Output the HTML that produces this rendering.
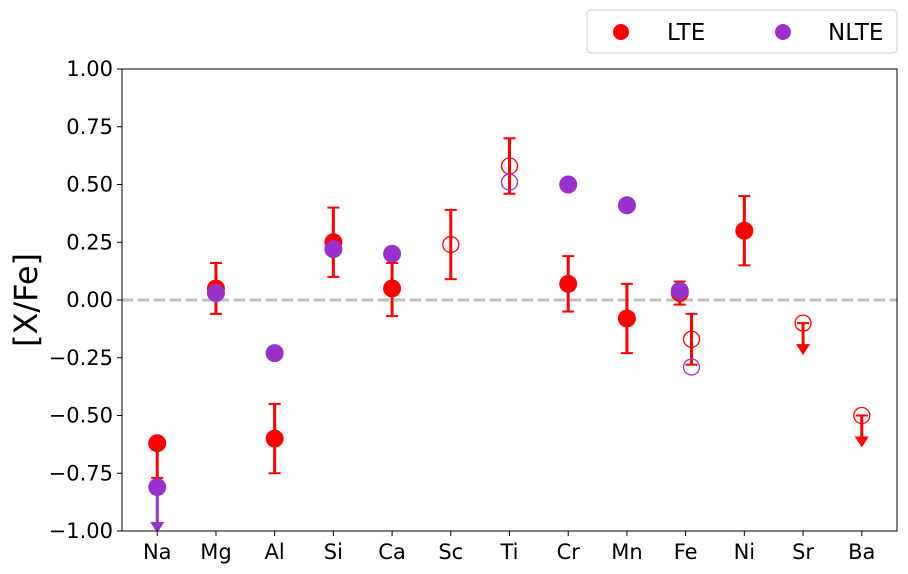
<!DOCTYPE html>
<html><head><meta charset="utf-8"><style>
body{margin:0;background:#fff;}
svg{display:block;font-family:"DejaVu Sans","Liberation Sans",sans-serif;}
</style></head><body>
<svg id="c" width="908" height="574"></svg>
<script>
const categories=["Na","Mg","Al","Si","Ca","Sc","Ti","Cr","Mn","Fe","Ni","Sr","Ba"];
const yTicks=[1.00,0.75,0.50,0.25,0.00,-0.25,-0.50,-0.75,-1.00];
// LTE filled: [catIndex, offset, value, errLow, errHigh]
const lteFilled=[[0,0,-0.62,0.15,0],[1,0,0.05,0.11,0.11],[2,0,-0.60,0.15,0.15],[3,0,0.25,0.15,0.15],[4,0,0.05,0.12,0.11],[7,0,0.07,0.12,0.12],[8,0,-0.08,0.15,0.15],[9,-0.1,0.03,0.05,0.05],[10,0,0.30,0.15,0.15]];
const lteOpen=[[5,0,0.24,0.15,0.15],[6,0,0.58,0.12,0.12],[9,0.1,-0.17,0.11,0.11]];
const lteLimits=[[11,0,-0.10,0.13],[12,0,-0.50,0.13]];
const nlteFilled=[[0,0,-0.81],[1,0,0.03],[2,0,-0.23],[3,0,0.22],[4,0,0.20],[7,0,0.50],[8,0,0.41],[9,-0.1,0.04]];
const nlteOpen=[[6,0,0.51],[9,0.1,-0.29]];
const nlteLimits=[[0,0,-0.81,0.19]];
const L=122,R=897,T=69,B=531;
const x=i=>L+(i+0.6)/13.2*(R-L);
const y=v=>T+(1-v)/2*(B-T);
const svg=document.getElementById('c');const NS="http://www.w3.org/2000/svg";
function mk(t,a,p){const e=document.createElementNS(NS,t);for(const k in a)e.setAttribute(k,a[k]);(p||svg).appendChild(e);return e;}
const RED="#ff0000",PUR="#9932cc";
let e=mk('line',{x1:L,x2:R,y1:y(0),y2:y(0),stroke:"#bfbfbf","stroke-width":3,"stroke-dasharray":"11,5"});

yTicks.forEach(v=>{mk('line',{x1:L-5,x2:L,y1:y(v),y2:y(v),stroke:"#000"});
 const t=mk('text',{x:L-9,y:y(v)+7,"text-anchor":"end","font-size":21});t.textContent=v.toFixed(2).replace('-','\u2212');
 });
categories.forEach((c,i)=>{mk('line',{x1:x(i),x2:x(i),y1:B,y2:B+5,stroke:"#000"});
 const t=mk('text',{x:x(i),y:B+28,"text-anchor":"middle","font-size":21});t.textContent=c;
 });
function err(cx,v,lo,hi,col){
 if(lo>0){mk('line',{x1:cx,x2:cx,y1:y(v),y2:y(v-lo),stroke:col,"stroke-width":3});mk('line',{x1:cx-6,x2:cx+6,y1:y(v-lo),y2:y(v-lo),stroke:col,"stroke-width":2});}
 if(hi>0){mk('line',{x1:cx,x2:cx,y1:y(v),y2:y(v+hi),stroke:col,"stroke-width":3});mk('line',{x1:cx-6,x2:cx+6,y1:y(v+hi),y2:y(v+hi),stroke:col,"stroke-width":2});}
}
function lim(cx,v,d,col){const y2=y(v-d);
 mk('line',{x1:cx,x2:cx,y1:y(v),y2:y2-6,stroke:col,"stroke-width":3});mk('line',{x1:cx-6,x2:cx+6,y1:y(v),y2:y(v),stroke:col,"stroke-width":2});
 mk('polygon',{points:`${cx-7},${y2-9} ${cx+7},${y2-9} ${cx},${y2+2}`,fill:col});}
lteFilled.forEach(d=>err(x(d[0]+d[1]),d[2],d[3],d[4],RED));
lteOpen.forEach(d=>err(x(d[0]+d[1]),d[2],d[3],d[4],RED));
lteLimits.forEach(d=>lim(x(d[0]+d[1]),d[2],d[3],RED));
nlteLimits.forEach(d=>lim(x(d[0]+d[1]),d[2],d[3],PUR));
lteFilled.forEach(d=>{const c=mk('circle',{cx:x(d[0]+d[1]),cy:y(d[2]),r:9,fill:RED});
 });
lteOpen.concat(lteLimits).forEach(d=>{const c=mk('circle',{cx:x(d[0]+d[1]),cy:y(d[2]),r:8,fill:"none",stroke:RED,"stroke-width":1.3});
 });
nlteFilled.forEach(d=>{const c=mk('circle',{cx:x(d[0]+d[1]),cy:y(d[2]),r:9,fill:PUR});
 });
nlteOpen.forEach(d=>{const c=mk('circle',{cx:x(d[0]+d[1]),cy:y(d[2]),r:8,fill:"none",stroke:PUR,"stroke-width":1.3});
 });
e=mk('rect',{x:L,y:T,width:R-L,height:B-T,fill:"none",stroke:"#000","stroke-width":1});

e=mk('text',{x:0,y:0,"font-size":32,"text-anchor":"middle",transform:`translate(37,${(T+B)/2}) rotate(-90)`});e.textContent="[X/Fe]";

const g=mk('g',{});
mk('rect',{x:587,y:10,width:310,height:43,rx:4,fill:"#fff",stroke:"#ccc"},g);
mk('circle',{cx:621,cy:32,r:8,fill:RED},g);
let t=mk('text',{x:667,y:40,"font-size":23},g);t.textContent="LTE";
mk('circle',{cx:783,cy:32,r:8,fill:PUR},g);
t=mk('text',{x:828,y:40,"font-size":23},g);t.textContent="NLTE";
</script>
</body></html>
